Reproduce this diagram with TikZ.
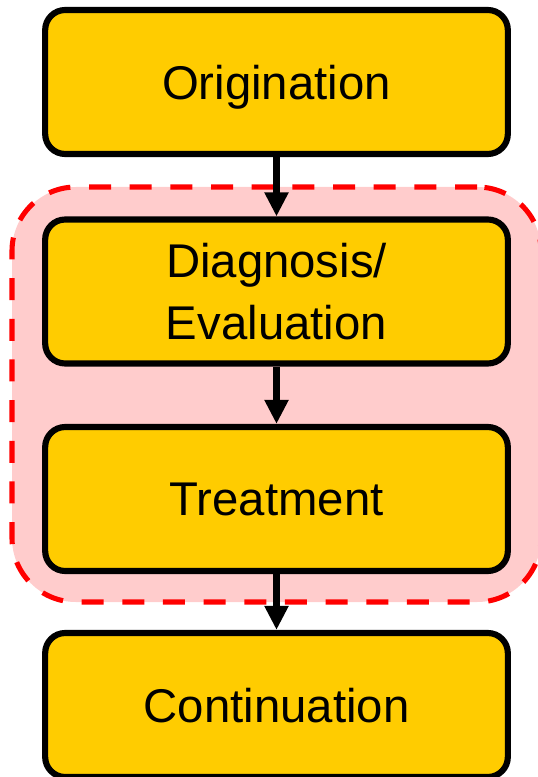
\documentclass[tikz,border=0pt]{standalone}
\usepackage{fontspec}
\setmainfont{Liberation Sans}
\usetikzlibrary{arrows.meta}
\definecolor{boxyellow}{HTML}{FFCC00}
\definecolor{grppink}{HTML}{FFCCCC}
\definecolor{grpred}{HTML}{FF0000}
\tikzset{
  stagebox/.style={draw=black, fill=boxyellow, line width=4.6pt, rounded corners=15pt,
    minimum width=347pt, minimum height=108pt, align=center, inner sep=0pt, text depth=0pt,
    font=\fontsize{35.5pt}{46.5pt}\selectfont},
  grpbox/.style={draw=grpred, fill=grppink, line width=3.8pt, rounded corners=48pt,
    dash pattern=on 16.5pt off 14pt, minimum width=396.75pt, minimum height=311.25pt, inner sep=0pt},
  flowarrow/.style={draw=black, line width=5pt, -{Triangle[width=17pt,length=18pt]}}
}
\begin{document}
\begin{tikzpicture}[x=0.75pt,y=-0.75pt]
\useasboundingbox (0,0) rectangle (537,777);
\node[grpbox] (grp) at (276.5,394.5) {};
\node[stagebox] (orig) at (276.5,82) {Origination};
\node[stagebox] (diag) at (276.5,291.5) {Diagnosis/\\Evaluation};
\node[stagebox] (treat) at (276.5,499) {Treatment};
\node[stagebox] (cont) at (276.5,705) {Continuation};
\draw[flowarrow] (orig.south) -- (diag.north);
\draw[flowarrow] (diag.south) -- (treat.north);
\draw[flowarrow] (treat.south) -- (cont.north);
\end{tikzpicture}
\end{document}
